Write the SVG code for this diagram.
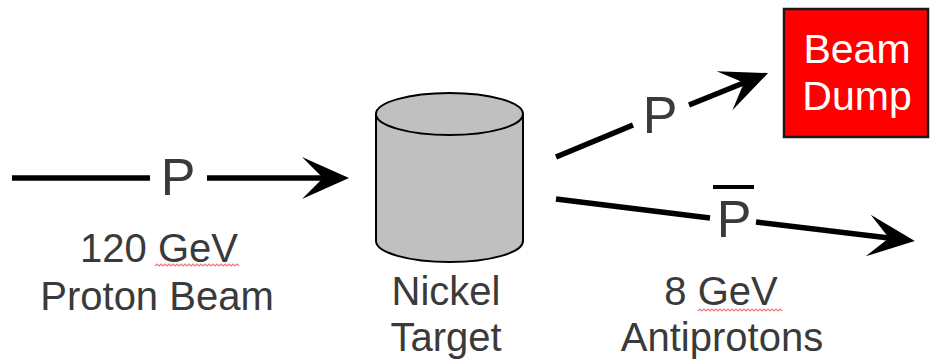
<svg xmlns="http://www.w3.org/2000/svg" width="931" height="363" viewBox="0 0 931 363">
  <defs>
    <style>
      .beam { stroke: #000; stroke-width: 5.5; fill: none; }
      .lbl { font-family: "Liberation Sans", Arial, sans-serif; fill: #3a3a3a; }
      .big { font-size: 40px; text-anchor: middle; }
      .sym { font-size: 52px; text-anchor: middle; }
      .dumptxt { font-family: "Liberation Sans", Arial, sans-serif; font-size: 41px; fill: #fff; text-anchor: middle; }
      .squig { stroke: #f07878; stroke-width: 1.2; fill: none; }
    </style>
    <!-- barbed arrowhead; origin sits at the inner notch -->
    <marker id="head" markerUnits="userSpaceOnUse" viewBox="-25 -25 55 50" markerWidth="55" markerHeight="50" refX="0" refY="0" orient="auto" overflow="visible">
      <path d="M26,0 L-21,-21 L0,0 L-21,21 Z" fill="#000"/>
    </marker>
  </defs>

  <rect width="931" height="363" fill="#fff"/>

  <!-- connectors -->
  <g id="connectors">
    <line class="beam" x1="12" y1="178" x2="150" y2="178"/>
    <line class="beam" x1="207" y1="178" x2="323" y2="178" marker-end="url(#head)"/>
    <line class="beam" x1="556" y1="157" x2="633" y2="125"/>
    <line class="beam" x1="689" y1="105" x2="744" y2="82.8" marker-end="url(#head)"/>
    <line class="beam" x1="556" y1="199" x2="710" y2="218"/>
    <line class="beam" x1="756" y1="222" x2="889" y2="238" marker-end="url(#head)"/>
    <text class="lbl sym" x="178" y="195">P</text>
    <text class="lbl sym" x="660" y="133">P</text>
    <text class="lbl sym" x="734" y="237">P</text>
    <rect x="713" y="185" width="41" height="4" fill="#000"/>
  </g>

  <!-- incoming proton beam -->
  <g id="proton-beam">
    <text class="lbl big" x="159" y="262">120 GeV</text>
    <text class="lbl big" x="157" y="310">Proton Beam</text>
    <path class="squig" d="M155,266 l2,-2 l2,2 l2,-2 l2,2 l2,-2 l2,2 l2,-2 l2,2 l2,-2 l2,2 l2,-2 l2,2 l2,-2 l2,2 l2,-2 l2,2 l2,-2 l2,2 l2,-2 l2,2 l2,-2 l2,2 l2,-2 l2,2 l2,-2 l2,2 l2,-2 l2,2 l2,-2 l2,2 l2,-2 l2,2 l2,-2 l2,2 l2,-2 l2,2 l2,-2 l2,2 l2,-2 l2,2 l2,-2 l2,2"/>
  </g>

  <!-- nickel target -->
  <g id="nickel-target">
    <path d="M376,114 L376,241 A73.5,21 0 0 0 523,241 L523,114 Z" fill="#c0c0c0" stroke="#000" stroke-width="2"/>
    <ellipse cx="449.5" cy="114" rx="73.5" ry="21" fill="#c0c0c0" stroke="#000" stroke-width="2"/>
    <text class="lbl big" x="446" y="305">Nickel</text>
    <text class="lbl big" x="446" y="351">Target</text>
  </g>

  <!-- beam dump -->
  <g id="beam-dump">
    <rect x="784" y="9" width="144" height="128" fill="#ff0000" stroke="#1a1a1a" stroke-width="2.5"/>
    <text class="dumptxt" x="857" y="63">Beam</text>
    <text class="dumptxt" x="857" y="110">Dump</text>
  </g>

  <!-- antiproton output -->
  <g id="antiprotons">
    <text class="lbl big" x="721" y="305">8 GeV</text>
    <text class="lbl big" x="722" y="351">Antiprotons</text>
    <path class="squig" d="M698,311 l2,-2 l2,2 l2,-2 l2,2 l2,-2 l2,2 l2,-2 l2,2 l2,-2 l2,2 l2,-2 l2,2 l2,-2 l2,2 l2,-2 l2,2 l2,-2 l2,2 l2,-2 l2,2 l2,-2 l2,2 l2,-2 l2,2 l2,-2 l2,2 l2,-2 l2,2 l2,-2 l2,2 l2,-2 l2,2 l2,-2 l2,2 l2,-2 l2,2 l2,-2 l2,2 l2,-2 l2,2 l2,-2 l2,2"/>
  </g>
</svg>
